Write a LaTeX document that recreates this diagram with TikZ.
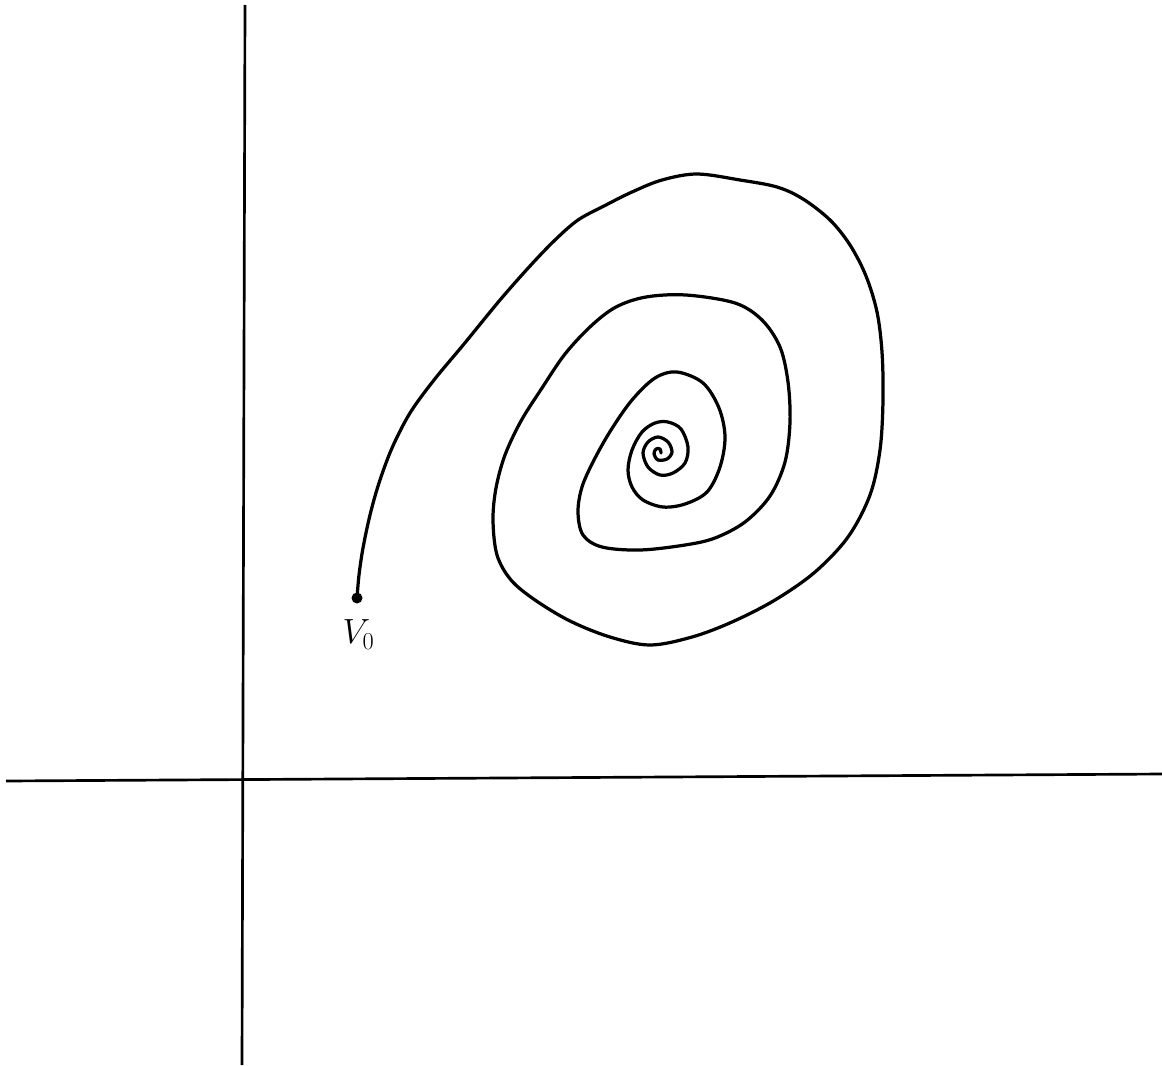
\documentclass[tikz,border=0pt]{standalone}
\usepackage{amsmath,amssymb}
\usepackage{tikz}
\usetikzlibrary{positioning}

\begin{document}
\begin{tikzpicture}[x=0.025cm, y=-0.025cm,
    axis/.style={line width=1.9pt, black},
    orbit/.style={line width=2.3pt, black, line cap=round, line join=round}]
    \useasboundingbox (0,0) rectangle (1162,1065);

    % Axes
    \coordinate (xl) at (6,781);
    \coordinate (xr) at (1162,774);
    \coordinate (yt) at (245,5);
    \coordinate (yb) at (242,1065);
    \draw[axis] (xl) -- (xr);
    \draw[axis] (yt) -- (yb);

    % Starting point and its label
    \fill (357,598) circle (5.5);
    \coordinate (v0) at (357,598);
    \node[font=\fontsize{24}{28}\selectfont, below left=12pt and -16pt of v0] (v0lbl) {$V_{0}$};

    % Trajectory spiralling in towards the fixed point
    \draw[orbit]
        plot[smooth, tension=0.55]
        coordinates {(357,598) (359,575) (363,548) (370,515) (379,483) (392,448)
            (410,413) (434,380) (464,344) (500,300) (530,266) (555,240)
            (578,220) (604,206) (632,192) (662,180) (697,174) (740,180)
            (777,187) (803,199) (830,220) (850,245) (866,276) (877,312)
            (882,352) (883,400) (880,450) (870,495) (848,537) (815,572)
            (775,600) (732,622) (692,637) (650,645) (610,637) (570,621)
            (535,600) (511,580) (497,555) (493,520) (496,488) (505,455)
            (521,421) (542,388) (565,354) (591,326) (616,307) (646,297)
            (686,295) (735,303) (762,320) (780,347) (788,382) (790,422)
            (785,462) (770,496) (745,522) (715,538) (685,545) (640,550)
            (602,547) (583,535) (578,512) (582,487) (594,460) (611,430)
            (632,400) (655,378) (677,372) (703,383) (719,408) (725,437)
            (720,467) (707,492) (685,504) (663,507) (643,500) (632,487)
            (628,470) (632,450) (642,432) (655,423) (668,422) (681,429)
            (688,447) (685,463) (673,473) (660,475) (648,467) (643,453)
            (648,442) (658,437) (668,442) (672,452) (667,459) (658,460)
            (654,454) (656,449) (660,449) (661,453)};
\end{tikzpicture}
\end{document}
